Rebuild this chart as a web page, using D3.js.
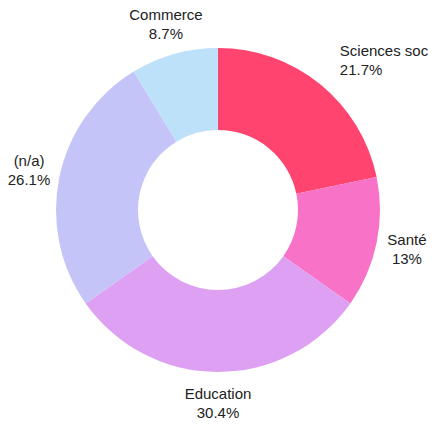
<!DOCTYPE html>
<html><head><meta charset="utf-8">
<script src="https://cdn.jsdelivr.net/npm/d3@7"></script>
<style>body{margin:0;background:#fff}svg{display:block}text{font-family:"Liberation Sans",Arial,sans-serif;font-size:15px;fill:#222}</style>
</head><body><svg id="c" width="435" height="427"></svg>
<script>
const categories = ["Sciences soc", "Santé", "Education", "(n/a)", "Commerce"];
const values = [5, 3, 7, 6, 2];
const percentLabels = ["21.7%", "13%", "30.4%", "26.1%", "8.7%"];
const colors = ["#FF4470", "#F873C8", "#DDA0F2", "#C4C4F8", "#BCE1F9"];

const W = 435, H = 427, cx = 218, cy = 210, R = 162, r0 = 80, labelR = 193;
const svg = d3.select("#c");
const g = svg.append("g").attr("transform", `translate(${cx},${cy})`);
const data = categories.map((c, i) => ({cat: c, v: values[i], pct: percentLabels[i], col: colors[i]}));
const pie = d3.pie().value(d => d.v).sort(null);
const arc = d3.arc().innerRadius(r0).outerRadius(R);
const arcs = pie(data);
g.selectAll("path").data(arcs).join("path").attr("d", arc).attr("fill", d => d.data.col);

const labelArc = d3.arc().innerRadius(labelR).outerRadius(labelR);
const lh = 19;
arcs.forEach(a => {
  const [x, y] = labelArc.centroid(a);
  const t = g.append("text").attr("x", x).attr("y", y).attr("text-anchor", "middle");
  t.append("tspan").attr("x", x).attr("dy", -lh / 2 + 5).text(a.data.cat);
  t.append("tspan").attr("x", x).attr("dy", lh).text(a.data.pct);
  const b = t.node().getBBox();
  const corners = [[b.x, b.y], [b.x + b.width, b.y], [b.x, b.y + b.height], [b.x + b.width, b.y + b.height]];
  const hit = corners.some(([px, py]) => Math.hypot(px, py) < R + 4);
  if (hit) {
    const anchor = x >= 0 ? "start" : "end";
    t.attr("text-anchor", anchor);
  }
});
</script></body></html>
